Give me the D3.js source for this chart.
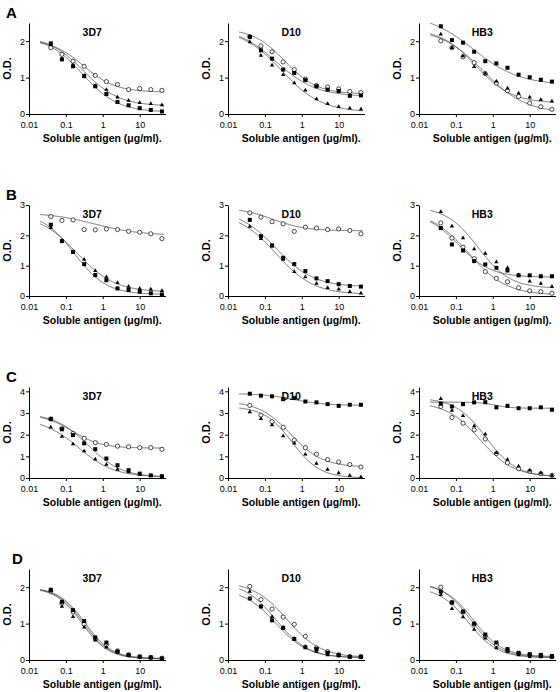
<!DOCTYPE html>
<html><head><meta charset="utf-8">
<script src="https://cdn.jsdelivr.net/npm/d3@7"></script>
<style>body{margin:0;background:#fff} svg{display:block}</style>
</head><body>
<svg id="c" width="560" height="692"></svg>
<script>
// ---------- data ----------
const concentrations = [0.039, 0.078, 0.156, 0.3125, 0.625, 1.25, 2.5, 5, 10, 20, 40];
const rowLabels = ["A", "B", "C", "D"];
const strains = ["3D7", "D10", "HB3"];
const yMaxByRow = [2.5, 3, 4.2, 2.5];
const yTicksByRow = [[0, 1, 2], [0, 1, 2, 3], [0, 1, 2, 3, 4], [0, 1, 2]];
const xTicks = [0.01, 0.1, 1, 10];
const xTickLabels = ["0.01", "0.1", "1", "10"];
const xLabel = "Soluble antigen (\u03bcg/ml).";
const yLabel = "O.D.";

// O.D. values per row: [3D7, D10, HB3]
const squaresA = [
  [1.94,1.50,1.31,1.04,0.76,0.55,0.33,0.24,0.16,0.11,0.07],
  [2.12,1.75,1.52,1.22,1.13,0.93,0.76,0.67,0.63,0.50,0.51],
  [2.41,2.03,1.96,1.71,1.45,1.39,1.27,1.08,1.01,0.94,0.89]];
const trianglesA = [
  [1.90,1.52,1.34,1.06,0.78,0.67,0.46,0.37,0.31,0.28,0.25],
  [1.98,1.61,1.34,1.08,0.85,0.65,0.41,0.28,0.20,0.16,0.13],
  [2.19,1.82,1.59,1.30,1.11,0.90,0.71,0.57,0.46,0.39,0.35]];
const circlesA = [
  [1.82,1.64,1.45,1.31,1.06,0.89,0.81,0.67,0.70,0.67,0.65],
  [2.12,1.87,1.71,1.43,1.22,0.96,0.78,0.74,0.69,0.62,0.59],
  [2.01,1.82,1.57,1.41,1.11,0.85,0.64,0.48,0.30,0.20,0.13]];

const squaresB = [
  [2.35,1.81,1.45,1.05,0.69,0.52,0.25,0.20,0.14,0.09,0.05],
  [2.51,1.97,1.67,1.26,1.05,0.82,0.58,0.49,0.39,0.33,0.31],
  [2.24,1.70,1.50,1.15,1.04,0.93,0.84,0.68,0.68,0.65,0.65]];
const trianglesB = [
  [2.25,1.83,1.47,1.20,0.83,0.63,0.44,0.31,0.25,0.22,0.17],
  [2.29,1.89,1.64,1.20,0.80,0.63,0.41,0.27,0.22,0.14,0.09],
  [2.78,2.30,1.91,1.55,1.40,1.12,0.93,0.70,0.49,0.41,0.31]];
const circlesB = [
  [2.62,2.49,2.51,2.19,2.18,2.21,2.19,2.13,2.10,2.05,1.89],
  [2.74,2.60,2.45,2.38,2.13,2.27,2.24,2.19,2.21,2.16,2.05],
  [2.41,1.91,1.61,1.23,0.80,0.58,0.47,0.27,0.17,0.14,0.09]];

const squaresC = [
  [2.73,2.25,1.98,1.60,1.33,0.90,0.59,0.36,0.20,0.12,0.08],
  [3.89,3.80,3.77,3.64,3.69,3.53,3.49,3.41,3.33,3.38,3.38],
  [3.43,3.30,3.41,3.49,3.50,3.26,3.33,3.22,3.22,3.26,3.15]];
const trianglesC = [
  [2.34,1.91,1.57,1.24,0.87,0.62,0.39,0.28,0.17,0.11,0.08],
  [3.05,2.73,2.45,1.94,1.60,1.09,0.67,0.39,0.23,0.12,0.05],
  [3.66,3.12,2.87,2.40,2.02,1.16,0.85,0.54,0.36,0.23,0.12]];
const circlesC = [
  [2.72,2.28,2.06,1.83,1.63,1.55,1.47,1.44,1.40,1.40,1.32],
  [3.35,2.90,2.60,2.34,1.75,1.40,1.10,0.85,0.74,0.62,0.51],
  [3.30,2.79,2.53,2.22,1.80,1.13,0.70,0.43,0.31,0.20,0.12]];

const squaresD = [
  [1.93,1.60,1.37,1.07,0.62,0.48,0.23,0.14,0.09,0.07,0.04],
  [1.69,1.47,1.09,0.88,0.58,0.35,0.30,0.20,0.14,0.09,0.09],
  [1.88,1.58,1.33,1.00,0.70,0.48,0.30,0.19,0.16,0.14,0.11]];
const trianglesD = [
  [1.91,1.47,1.19,0.90,0.54,0.35,0.23,0.14,0.09,0.07,0.05],
  [1.88,1.47,1.19,0.90,0.58,0.37,0.23,0.14,0.11,0.09,0.07],
  [1.79,1.41,1.18,0.84,0.60,0.33,0.23,0.14,0.09,0.09,0.07]];
const circlesD = [
  [1.90,1.56,1.32,0.98,0.58,0.42,0.25,0.14,0.09,0.07,0.05],
  [2.02,1.66,1.40,1.18,0.98,0.65,0.33,0.23,0.14,0.09,0.09],
  [2.00,1.58,1.32,0.98,0.65,0.42,0.26,0.19,0.14,0.11,0.09]];

// fitted 4-parameter logistic curves: [bottom, top, EC50, Hill]
const fitSquares = [
  [[0.05,2.15,0.28,0.9],[0.48,2.4,0.2,0.8],[0.8,2.75,0.3,0.7]],
  [[0.05,2.75,0.17,1.0],[0.3,2.85,0.2,0.85],[0.62,2.75,0.12,1.0]],
  [[0.03,3.0,0.4,0.95],[3.35,3.9,0.6,1.0],[3.22,3.5,1.2,2.0]],
  [[0.04,2.0,0.33,1.2],[0.06,1.95,0.2,1.0],[0.09,2.1,0.3,1.1]]];
const fitTriangles = [
  [[0.22,2.15,0.3,0.9],[0.05,2.35,0.28,0.8],[0.3,2.35,0.35,0.9]],
  [[0.13,2.7,0.2,0.85],[0.05,2.75,0.2,0.85],[0.25,2.95,0.4,1.0]],
  [[0.05,2.75,0.22,0.9],[0.0,3.3,0.55,1.15],[0.05,3.7,0.65,1.05]],
  [[0.03,2.0,0.27,1.2],[0.06,2.15,0.2,1.0],[0.06,2.0,0.22,1.1]]];
const fitCircles = [
  [[0.6,2.05,0.3,1.0],[0.55,2.35,0.35,1.0],[0.02,2.35,0.55,0.75]],
  [[2.0,2.75,0.6,0.7],[2.15,2.9,0.17,1.0],[0.03,2.8,0.22,0.85]],
  [[1.38,2.95,0.15,1.1],[0.5,3.55,0.5,1.0],[0.05,3.5,0.45,0.95]],
  [[0.03,2.0,0.3,1.2],[0.07,2.15,0.4,0.95],[0.07,2.15,0.25,1.1]]];

const squaresByRow = [squaresA, squaresB, squaresC, squaresD];
const trianglesByRow = [trianglesA, trianglesB, trianglesC, trianglesD];
const circlesByRow = [circlesA, circlesB, circlesC, circlesD];
const fitRange = [0.02, 45];

// ---------- layout ----------
const colX = [29, 228, 419];
const rowAxisY = [114, 296, 478, 660];
const plotW = 136.5, plotH = 91;
const FONT = "'Liberation Sans', Arial, Helvetica, sans-serif";

const svg = d3.select("#c").style("font-family", FONT);

function logistic(p, xv) {
  const [b, t, ec, h] = p;
  return b + (t - b) / (1 + Math.pow(xv / ec, h));
}

rowLabels.forEach((lab, r) => {
  svg.append("text").attr("x", r === 3 ? 12 : 6).attr("y", rowAxisY[r] - plotH - 5)
    .attr("font-size", 15).attr("font-weight", "bold").attr("fill", "#000").text(lab);

  strains.forEach((strain, c) => {
    const g = svg.append("g").attr("transform", `translate(${colX[c]},${rowAxisY[r] - plotH})`);
    const x = d3.scaleLog().domain([0.01, 50]).range([0, plotW]);
    const y = d3.scaleLinear().domain([0, yMaxByRow[r]]).range([plotH, 0]);

    const xa = g.append("g").attr("transform", `translate(0,${plotH})`)
      .call(d3.axisBottom(x).tickValues(xTicks).tickFormat((d, i) => xTickLabels[i]).tickSize(3).tickSizeOuter(0));
    const ya = g.append("g")
      .call(d3.axisLeft(y).tickValues(yTicksByRow[r]).tickFormat(d3.format("d")).tickSize(3).tickSizeOuter(0));
    [xa, ya].forEach(a => {
      a.selectAll("text").attr("font-size", 9).attr("font-family", FONT).attr("fill", "#000");
      a.selectAll("line,path").attr("stroke", "#000").attr("stroke-width", 1);
    });
    xa.selectAll("text").attr("dy", "0.85em").attr("y", 6);
    ya.selectAll("text").attr("x", -4);

    // title
    g.append("text").attr("x", plotW / 2 - 5).attr("y", 13).attr("text-anchor", "middle")
      .attr("font-size", 10.5).attr("font-weight", "bold").text(strain);
    // axis labels
    g.append("text").attr("x", plotW / 2 + 5).attr("y", plotH + 28).attr("text-anchor", "middle")
      .attr("font-size", 10.5).attr("font-weight", "bold").text(xLabel);
    g.append("text").attr("transform", `translate(${-18},${plotH / 2}) rotate(-90)`)
      .attr("text-anchor", "middle").attr("font-size", 11).attr("font-weight", "bold").text(yLabel);

    // fitted curves
    const samples = d3.range(0, 201).map(i => Math.pow(10, Math.log10(fitRange[0]) + i * (Math.log10(fitRange[1]) - Math.log10(fitRange[0])) / 200));
    const line = d3.line().x(d => x(d[0])).y(d => y(d[1]));
    [fitSquares, fitTriangles, fitCircles].forEach(fits => {
      const p = fits[r][c];
      g.append("path").datum(samples.map(s => [s, logistic(p, s)]))
        .attr("d", line).attr("fill", "none").attr("stroke", "#444").attr("stroke-width", 0.75);
    });

    // markers
    const circ = circlesByRow[r][c], sq = squaresByRow[r][c], tri = trianglesByRow[r][c];
    g.selectAll(".ci").data(circ).join("circle")
      .attr("cx", (d, i) => x(concentrations[i])).attr("cy", d => y(d)).attr("r", 2.1)
      .attr("fill", "#fff").attr("stroke", "#000").attr("stroke-width", 0.7);
    g.selectAll(".sq").data(sq).join("rect")
      .attr("x", (d, i) => x(concentrations[i]) - 2).attr("y", d => y(d) - 2)
      .attr("width", 4).attr("height", 4).attr("fill", "#000");
    const triSym = d3.symbol().type(d3.symbolTriangle).size(8);
    g.selectAll(".tr").data(tri).join("path")
      .attr("d", triSym)
      .attr("transform", (d, i) => `translate(${x(concentrations[i])},${y(d)})`)
      .attr("fill", "#000");
  });
});
</script></body></html>
